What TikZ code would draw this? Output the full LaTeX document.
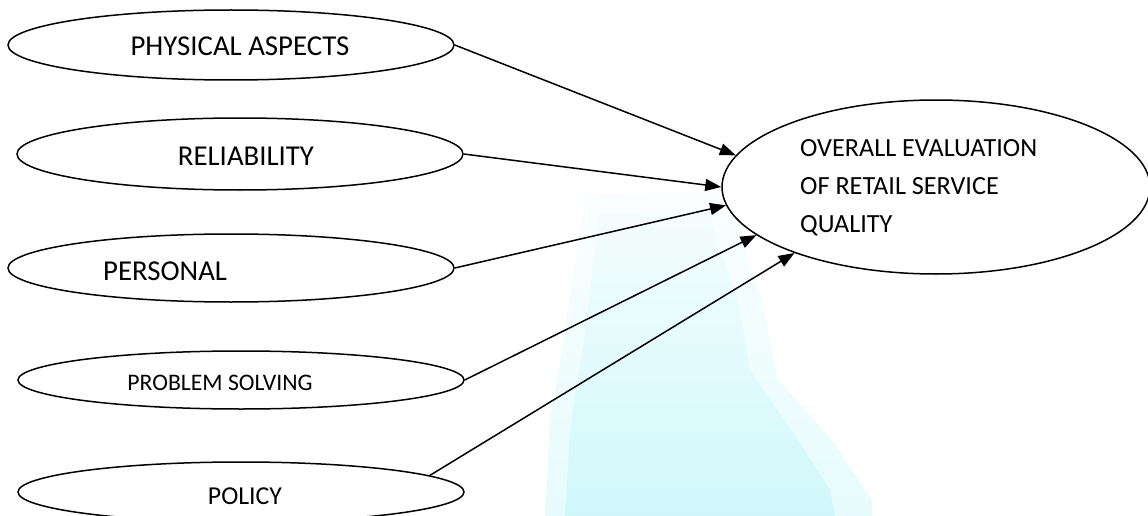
\documentclass[tikz,border=0pt]{standalone}
\usepackage{fontspec}
\setmainfont{Carlito}
\usetikzlibrary{shapes.geometric,arrows.meta}
\definecolor{wmcyan}{RGB}{200,247,250}
\definecolor{wmtop}{RGB}{245,253,253}
\begin{document}
\begin{tikzpicture}[x=1pt,y=-1pt,
  oval/.style={draw,ellipse,line width=1.5pt,inner sep=0pt,fill=white},
  lbl/.style={inner sep=0pt,font=\fontsize{28.8}{34}\selectfont},
  link/.style={line width=1.5pt,-{Triangle[length=16pt,width=12pt]}}]
\useasboundingbox (0,0) rectangle (1148,516);
% faint watermark
\shade[top color=wmtop, bottom color=wmcyan, fill opacity=0.45]
  (585,195) -- (725,190) -- (762,300) -- (778,380) -- (832,440) -- (872,500)
  -- (872,516) -- (545,516) -- (550,420) -- (565,330) -- cycle;
\shade[top color=wmtop, bottom color=wmcyan, fill opacity=0.75]
  (600,215) -- (708,210) -- (738,300) -- (750,370) -- (798,440) -- (830,490)
  -- (835,516) -- (565,516) -- (570,430) -- (584,340) -- cycle;
% source ellipses
\node[oval,minimum width=446,minimum height=70] (phys) at (231,45) {};
\node[oval,minimum width=446,minimum height=72] (rel) at (240,154) {};
\node[oval,minimum width=446,minimum height=68] (pers) at (231,268) {};
\node[oval,minimum width=446,minimum height=58] (prob) at (241,380) {};
\node[oval,minimum width=446,minimum height=60] (pol) at (241,492) {};
% target ellipse
\node[oval,minimum width=428,minimum height=174] (overall) at (936,187) {};
% labels
\node[lbl,anchor=base] (physt) at (240,56) {PHYSICAL ASPECTS};
\node[lbl,anchor=base] (relt) at (246,165) {RELIABILITY};
\node[lbl,anchor=base west] (perst) at (103,280) {PERSONAL};
\node[lbl,anchor=base,font=\fontsize{23.7}{28}\selectfont] (probt) at (220,390) {PROBLEM SOLVING};
\node[lbl,anchor=base,font=\fontsize{25.8}{30}\selectfont] (polt) at (245,504) {POLICY};
\node[lbl,anchor=north west,align=left,font=\fontsize{26.2}{38}\selectfont] (overallt) at (800,139)
  {OVERALL EVALUATION\\OF RETAIL SERVICE\\QUALITY};
% connectors
\draw[link] (phys.east) -- (overall.171.6);
\draw[link] (rel.east) -- (overall.180);
\draw[link] (pers.east) -- (overall.185.5);
\draw[link] (prob.east) -- (overall.195);
\draw[link] (pol.5) -- (overall.205);
\end{tikzpicture}
\end{document}
